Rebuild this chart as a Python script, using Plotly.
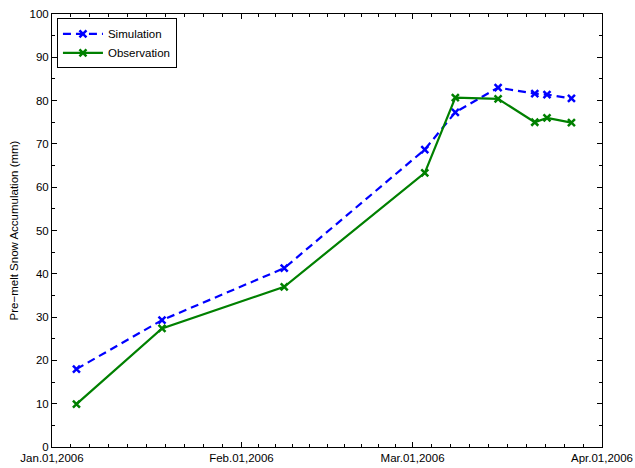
import plotly.graph_objects as go
import pandas as pd

dates = ["2006-01-05", "2006-01-19", "2006-02-08", "2006-03-03", "2006-03-08",
         "2006-03-15", "2006-03-21", "2006-03-23", "2006-03-27"]
simulation = [18.0, 29.3, 41.3, 68.7, 77.3, 83.0, 81.6, 81.4, 80.5]
observation = [9.9, 27.4, 37.0, 63.3, 80.7, 80.4, 75.0, 76.0, 74.9]

x_tick_vals = ["2006-01-01", "2006-02-01", "2006-03-01", "2006-04-01"]
x_tick_text = ["Jan.01,2006", "Feb.01,2006", "Mar.01,2006", "Apr.01,2006"]

# minor ticks: 10 subdivisions per month (like the reference axis)
minor_vals = []
mt = pd.to_datetime(x_tick_vals)
for a, b in zip(mt[:-1], mt[1:]):
    step = (b - a) / 10
    for k in range(1, 10):
        minor_vals.append((a + step * k).strftime("%Y-%m-%d %H:%M:%S"))

fig = go.Figure()
fig.add_trace(go.Scatter(
    x=dates, y=simulation, name="Simulation", mode="lines+markers",
    line=dict(color="rgb(0,0,255)", width=2.2, dash="8px,5px"),
    marker=dict(symbol="x-thin", size=7, color="rgb(0,0,255)",
                line=dict(color="rgb(0,0,255)", width=2.5)),
))
fig.add_trace(go.Scatter(
    x=dates, y=observation, name="Observation", mode="lines+markers",
    line=dict(color="rgb(0,128,0)", width=2.2),
    marker=dict(symbol="x-thin", size=7, color="rgb(0,128,0)",
                line=dict(color="rgb(0,128,0)", width=2.5)),
))

axis_font = dict(family="Liberation Sans, Arial, sans-serif", size=11.5, color="black")
fig.update_layout(
    width=635, height=468,
    margin=dict(l=52, r=33, t=14, b=21, autoexpand=False),
    paper_bgcolor="white", plot_bgcolor="white",
    font=axis_font,
    showlegend=True,
    legend=dict(x=0.009, y=0.99, xanchor="left", yanchor="top",
                bgcolor="white", bordercolor="black", borderwidth=1,
                font=dict(size=11.5), tracegroupgap=0,
                itemwidth=40),
    xaxis=dict(
        type="date", range=["2006-01-01", "2006-04-01"], automargin=False,
        tickmode="array", tickvals=x_tick_vals, ticktext=x_tick_text,
        ticks="inside", ticklen=5, tickcolor="black", tickwidth=1,
        showline=True, linecolor="black", linewidth=1, mirror="allticks",
        showgrid=False, zeroline=False, tickfont=axis_font,
        minor=dict(tickmode="array", tickvals=minor_vals, ticks="inside",
                   ticklen=3, tickcolor="black", showgrid=False),
    ),
    yaxis=dict(
        range=[0, 100], tickmode="linear", tick0=0, dtick=10, automargin=False,
        ticks="inside", ticklen=5, tickcolor="black", tickwidth=1,
        showline=True, linecolor="black", linewidth=1, mirror="allticks",
        showgrid=False, zeroline=False, tickfont=axis_font,
        title=dict(text="Pre\u2212melt Snow Accumulation (mm)", font=axis_font, standoff=8),
        minor=dict(dtick=5, ticks="inside", ticklen=3, tickcolor="black", showgrid=False),
    ),
)

fig.write_html("out.html")
